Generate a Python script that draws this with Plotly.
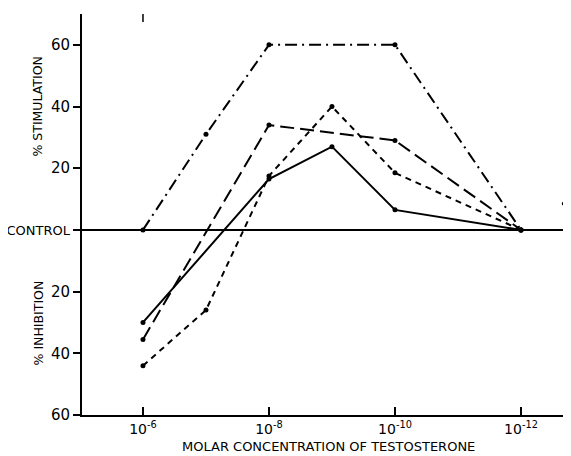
import plotly.graph_objects as go

# x positions are the negative log10 of molar concentration
exp_dashdot = [6, 7, 8, 10, 12]
val_dashdot = [0, 31, 60, 60, 0]

exp_longdash = [6, 8, 10, 12]
val_longdash = [-35.5, 34, 29, 0]

exp_shortdash = [6, 7, 8, 9, 10, 12]
val_shortdash = [-44, -26, 17.5, 40, 18.5, 0]

exp_solid = [6, 8, 9, 10, 12]
val_solid = [-30, 16.5, 27, 6.5, 0]

exp_stray = [12.68]
val_stray = [8.5]

x_tickvals = [6, 8, 10, 12]
x_ticktext = ["10<sup>-6</sup>", "10<sup>-8</sup>", "10<sup>-10</sup>", "10<sup>-12</sup>"]
y_tickvals = [60, 40, 20, 0, -20, -40, -60]
y_ticktext = ["60", "40", "20", "<span style='font-size:13px'>CONTROL</span>", "20", "40", "60"]

FONT = "DejaVu Sans"
fig = go.Figure()

def add(xs, ys, dash):
    fig.add_trace(go.Scatter(x=xs, y=ys, mode="lines+markers",
                             line=dict(color="black", width=2, dash=dash),
                             marker=dict(color="black", size=5),
                             showlegend=False))

add(exp_dashdot, val_dashdot, "12px,5px,2px,5px")
add(exp_longdash, val_longdash, "14px,6px")
add(exp_shortdash, val_shortdash, "6px,5px")
add(exp_solid, val_solid, "solid")
fig.add_trace(go.Scatter(x=exp_stray, y=val_stray, mode="markers",
                         marker=dict(color="black", size=4), showlegend=False))

# control line
fig.add_shape(type="line", xref="paper", yref="y", x0=0, x1=1, y0=0, y1=0,
              line=dict(color="black", width=2))
# top tick
fig.add_shape(type="line", xref="x", yref="paper", x0=6, x1=6, y0=1, y1=0.98,
              line=dict(color="black", width=1.5))

fig.update_xaxes(range=[5.032, 12.794], tickvals=x_tickvals, ticktext=x_ticktext,
                 ticks="inside", ticklen=8, tickwidth=1.5, tickcolor="black",
                 showline=True, linecolor="black", linewidth=2, showgrid=False,
                 zeroline=False, automargin=False,
                 tickfont=dict(family=FONT, size=14, color="black"))
fig.update_yaxes(range=[-60, 70], tickvals=y_tickvals, ticktext=y_ticktext,
                 ticks="outside", ticklen=7, tickwidth=1.5, tickcolor="black",
                 showline=True, linecolor="black", linewidth=2, showgrid=False,
                 zeroline=False, automargin=False,
                 tickfont=dict(family=FONT, size=15, color="black"))

fig.add_annotation(text="MOLAR CONCENTRATION OF TESTOSTERONE", xref="paper", yref="paper",
                   x=0.505, y=-32 / 401, showarrow=False, xanchor="center", yanchor="middle",
                   font=dict(family=FONT, size=13, color="black"))
fig.add_annotation(text="% STIMULATION", xref="paper", yref="y", x=-0.09, y=40,
                   textangle=-90, showarrow=False, xanchor="center", yanchor="middle",
                   font=dict(family=FONT, size=12.5, color="black"))
fig.add_annotation(text="% INHIBITION", xref="paper", yref="y", x=-0.09, y=-30,
                   textangle=-90, showarrow=False, xanchor="center", yanchor="middle",
                   font=dict(family=FONT, size=12.5, color="black"))

fig.update_layout(width=563, height=448, margin=dict(l=74, r=0, t=6, b=41),
                  paper_bgcolor="white", plot_bgcolor="white")
fig.write_html("out.html")
